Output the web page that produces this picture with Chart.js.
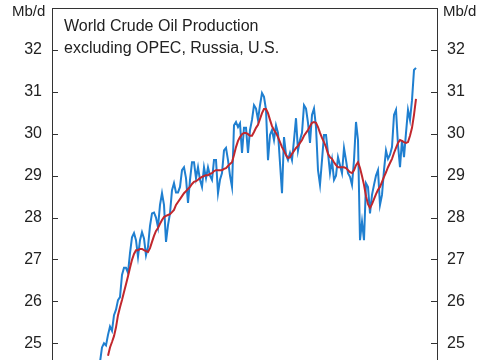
<!DOCTYPE html>
<html lang="en">
<head>
  <meta charset="UTF-8" />
  <title>World Crude Oil Production excluding OPEC, Russia, U.S.</title>
  <script src="https://cdn.jsdelivr.net/npm/chart.js"></script>
  <style>
    body { margin: 0; background: #fff; overflow: hidden; }
    #wrap { position: relative; width: 485px; height: 360px; }
    canvas { display: block; }
    .lbl {
      position: absolute;
      font-family: "Liberation Sans", Arial, sans-serif;
      color: #222;
      white-space: nowrap;
    }
    #title { left: 64px; top: 15px; font-size: 16px; line-height: 22px; }
    #unitL { left: 12px; top: 2px; font-size: 15px; }
    #unitR { left: 443px; top: 2px; font-size: 15px; }
  </style>
</head>
<body>
  <div id="wrap">
    <canvas id="oilChart" width="485" height="360"></canvas>
    <div class="lbl" id="title">World Crude Oil Production<br>excluding OPEC, Russia, U.S.</div>
    <div class="lbl" id="unitL">Mb/d</div>
    <div class="lbl" id="unitR">Mb/d</div>
  </div>

  <script>
    // monthly production, Mb/d
    const production = [
      24.55, 24.9, 25.0, 24.95, 25.2, 25.4, 25.3, 25.67, 25.8, 26.03,
      26.1, 26.63, 26.8, 26.8, 26.68, 27.15, 27.53, 27.63, 27.46, 27.06,
      27.46, 27.65, 27.5, 27.1, 27.3, 27.8, 28.1, 28.12, 28.0, 27.77,
      28.3, 28.58, 28.3, 27.42, 27.82, 28.1, 28.65, 28.82, 28.6, 28.6,
      28.73, 29.13, 29.2, 28.94, 28.35, 28.9, 29.32, 29.32, 28.94, 29.2,
      28.9, 28.73, 29.2, 28.94, 29.2, 29.0, 28.9, 29.37, 29.37, 28.58,
      28.9, 29.06, 29.6, 29.66, 29.37, 29.0, 28.73, 30.2, 30.28, 30.16,
      30.25, 29.54, 30.14, 30.14, 29.54, 30.09, 30.33, 30.68, 30.6, 30.33,
      30.68, 30.97, 30.88, 30.57, 29.37, 29.97, 30.09, 29.85, 30.2, 30.02,
      29.3, 28.58, 29.92, 29.5, 29.37, 29.54, 29.37, 29.85, 30.37, 29.6,
      29.85, 30.02, 30.68, 30.6, 30.26, 29.78, 30.45, 30.6, 30.16, 29.13,
      28.78, 29.37, 29.97, 29.97, 29.54, 29.06, 29.37, 28.9, 29.0, 29.44,
      29.25, 29.06, 29.66, 29.37, 29.06, 28.97, 28.78, 29.37, 30.28, 29.85,
      27.46, 27.9, 27.46, 28.82, 28.73, 28.1, 28.54, 28.78, 29.0, 29.13,
      28.3, 28.54, 29.13, 29.6, 29.4, 29.5, 29.68, 30.45, 30.57, 29.73,
      29.2, 29.85, 29.44, 30.02, 30.57, 30.33, 30.8, 31.52, 31.57
    ];

    // 12-month moving average
    const movingAvg = [
      null, null, null, null, 24.7, 24.9, 25.03, 25.17, 25.38, 25.67,
      25.86, 26.03, 26.22, 26.41, 26.6, 26.8, 26.99, 27.13, 27.22, 27.22,
      27.25, 27.25, 27.22, 27.2, 27.18, 27.27, 27.42, 27.56, 27.68, 27.75,
      27.85, 27.94, 28.01, 28.04, 28.06, 28.08, 28.13, 28.18, 28.3, 28.37,
      28.44, 28.51, 28.58, 28.63, 28.68, 28.73, 28.8, 28.85, 28.87, 28.9,
      28.94, 28.97, 28.99, 29.01, 29.01, 29.04, 29.06, 29.11, 29.13, 29.13,
      29.13, 29.13, 29.16, 29.18, 29.23, 29.28, 29.32, 29.49, 29.68, 29.83,
      29.92, 29.99, 30.02, 30.02, 29.99, 29.95, 29.95, 30.04, 30.14, 30.21,
      30.35, 30.49, 30.59, 30.59, 30.49, 30.33, 30.18, 30.09, 30.02, 29.92,
      29.8, 29.68, 29.59, 29.49, 29.42, 29.44, 29.52, 29.59, 29.66, 29.71,
      29.78, 29.85, 29.95, 30.02, 30.09, 30.18, 30.26, 30.28, 30.26, 30.16,
      30.02, 29.9, 29.8, 29.68, 29.52, 29.44, 29.4, 29.32, 29.25, 29.2,
      29.2, 29.2, 29.2, 29.18, 29.13, 29.08, 29.06, 29.13, 29.25, 29.32,
      29.18, 28.99, 28.78, 28.51, 28.32, 28.23, 28.32, 28.44, 28.56, 28.66,
      28.73, 28.85, 28.97, 29.08, 29.2, 29.3, 29.4, 29.54, 29.66, 29.78,
      29.85, 29.83, 29.8, 29.78, 29.8, 29.95, 30.14, 30.45, 30.83
    ];

    const yTicks = [25, 26, 27, 28, 29, 30, 31, 32];

    const toPoints = arr => arr.map((v, i) => ({ x: i, y: v }));

    const axisFont = { family: "'Liberation Sans', Arial, sans-serif", size: 16 };

    // frame top line + inward tick marks on both sides
    const framePlugin = {
      id: 'frame',
      afterDraw(chart) {
        const { ctx, chartArea: a, scales } = chart;
        ctx.save();
        ctx.strokeStyle = '#333';
        ctx.lineWidth = 1;
        ctx.beginPath();
        ctx.moveTo(a.left, a.top + 0.5);
        ctx.lineTo(a.right, a.top + 0.5);
        scales.y.ticks.forEach(t => {
          const py = Math.round(scales.y.getPixelForValue(t.value)) + 0.5;
          ctx.moveTo(a.left, py);
          ctx.lineTo(a.left + 6, py);
          ctx.moveTo(a.right, py);
          ctx.lineTo(a.right - 6, py);
        });
        ctx.stroke();
        ctx.restore();
      }
    };

    const yAxis = (position, width) => ({
      type: 'linear',
      position,
      min: 24.6,
      max: 33,
      afterBuildTicks: s => { s.ticks = yTicks.map(v => ({ value: v })); },
      afterFit: s => { s.width = width; s.paddingTop = 0; s.paddingBottom = 0; },
      grid: { display: false, drawTicks: false },
      border: { display: true, color: '#333', width: 1 },
      ticks: { color: '#222', font: axisFont, padding: 10 }
    });

    new Chart(document.getElementById('oilChart'), {
      type: 'line',
      data: {
        datasets: [
          {
            label: '12-month average',
            data: toPoints(movingAvg),
            borderColor: '#c1272d',
            borderWidth: 2,
            pointRadius: 0,
            fill: false,
            order: 0
          },
          {
            label: 'Monthly',
            data: toPoints(production),
            borderColor: '#1f7fd0',
            borderWidth: 2,
            pointRadius: 0,
            fill: false,
            order: 1
          }
        ]
      },
      options: {
        responsive: false,
        animation: false,
        layout: { padding: { top: 8, bottom: 0, left: 0, right: 0 } },
        plugins: { legend: { display: false }, tooltip: { enabled: false } },
        scales: {
          x: { type: 'linear', display: false, min: -24, max: 168.5 },
          y: yAxis('left', 52),
          y2: yAxis('right', 48)
        }
      },
      plugins: [framePlugin]
    });
  </script>
</body>
</html>
